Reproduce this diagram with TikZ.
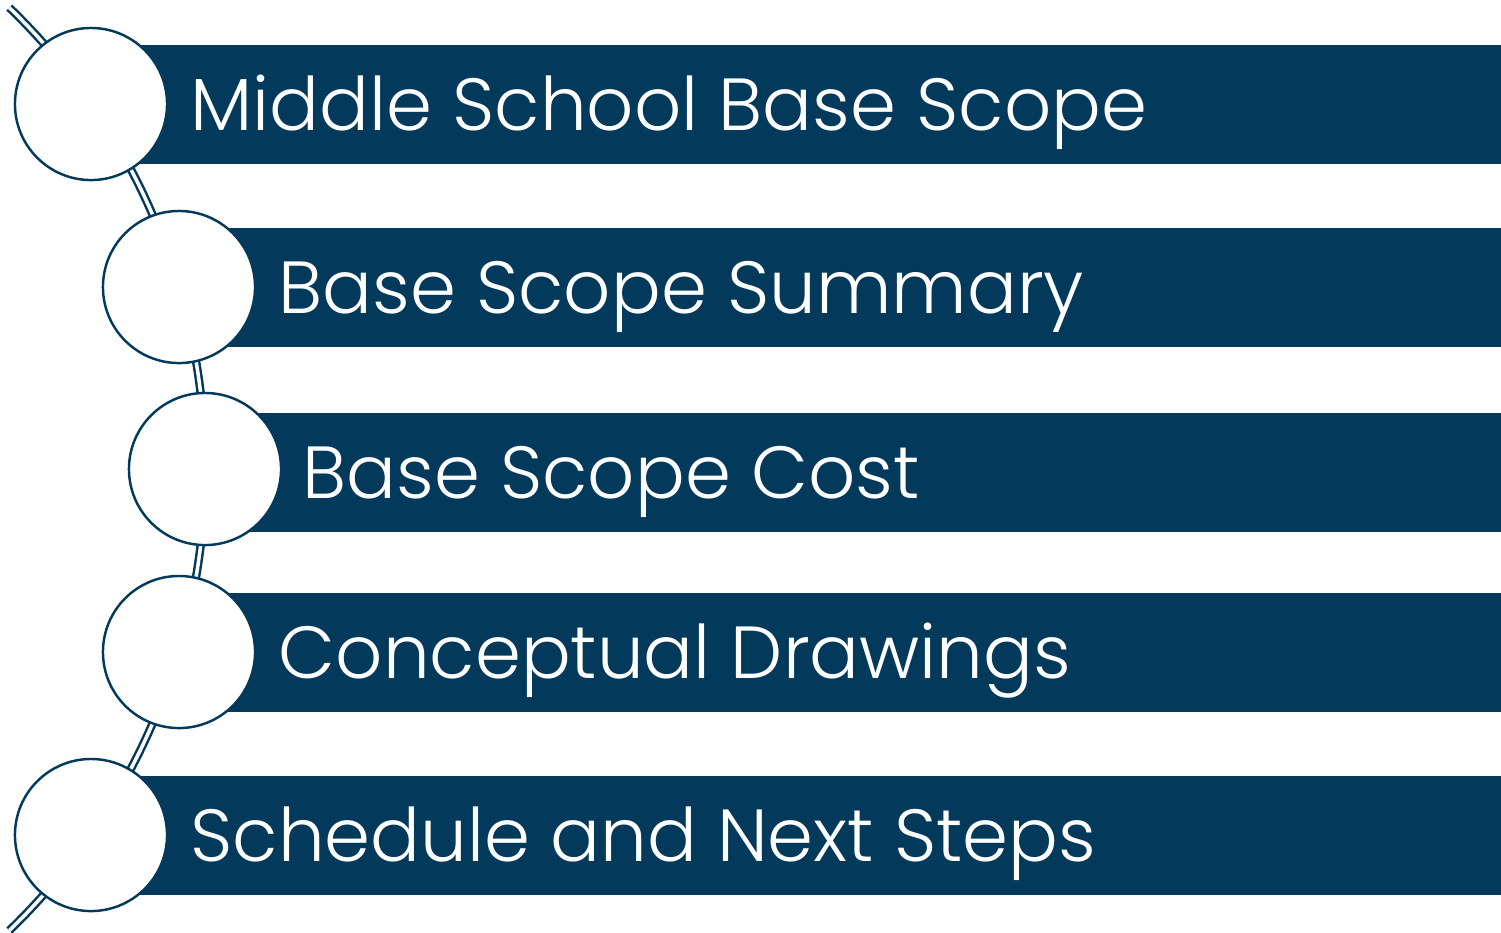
\documentclass[tikz,border=0pt]{standalone}
\usepackage{fontspec}
\setmainfont{Poppins}[UprightFont=* Light]
\usepackage{tikz}
\usetikzlibrary{positioning}
\definecolor{navy}{RGB}{3,58,92}

\begin{document}
\begin{tikzpicture}[x=0.01cm,y=-0.01cm]
\tikzstyle{bar}=[rectangle, fill=navy, inner sep=0pt, minimum height=1.19cm, anchor=west]
\tikzstyle{ring}=[circle, minimum size=1.52cm, inner sep=0pt, line width=0.7pt, draw=navy, fill=white]
\tikzstyle{txt}=[anchor=base west, inner sep=0pt, text=white, font=\fontsize{21}{25}\selectfont]
\tikzstyle{link}=[line width=0.7pt, draw=navy, double=white, double distance=1pt]
\useasboundingbox (0,0) rectangle (1501,932);
	% the chain behind the rings
	\coordinate (top) at (9.3,7.6);
	\draw[link] (top) arc[start angle=-46, end angle=46, radius=641.5];
	% bars
	\node[bar, minimum width=14.10cm] (b_1) at (91,104.5) {};
	\node[bar, minimum width=13.22cm] (b_2) at (179,287.5) {};
	\node[bar, minimum width=12.96cm] (b_3) at (205,472.5) {};
	\node[bar, minimum width=13.22cm] (b_4) at (179,652.5) {};
	\node[bar, minimum width=14.10cm] (b_5) at (91,835.5) {};
	% rings
	\node[ring] (c_1) at (91,104) {};
	\node[ring] (c_2) at (179,287) {};
	\node[ring] (c_3) at (205,469) {};
	\node[ring] (c_4) at (179,652) {};
	\node[ring] (c_5) at (91,835) {};
	% texts
	\node[txt] (t_1) at (190,130) {Middle School Base Scope};
	\node[txt] (t_2) at (278,313) {Base Scope Summary};
	\node[txt] (t_3) at (302,498) {Base Scope Cost};
	\node[txt] (t_4) at (278,678) {Conceptual Drawings};
	\node[txt] (t_5) at (190,861) {Schedule and Next Steps};
\end{tikzpicture}
\end{document}
